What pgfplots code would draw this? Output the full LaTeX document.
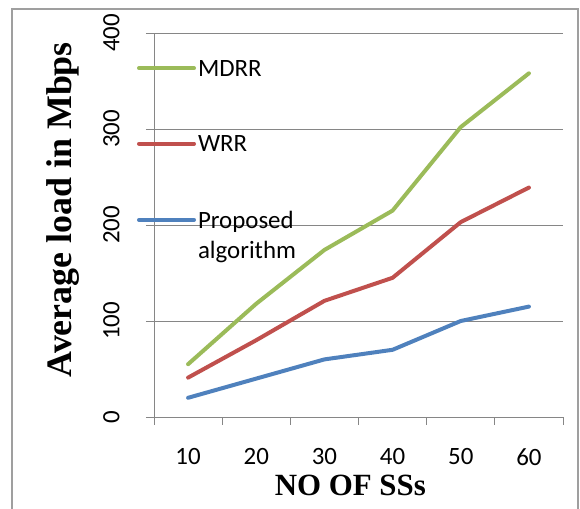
\documentclass[border=0pt]{standalone}
\usepackage{pgfplots}
\pgfplotsset{compat=1.18}
\usepackage{fontspec}
\setmainfont{Carlito}
\newfontfamily\tnr{Liberation Serif}
\definecolor{mgreen}{RGB}{155,187,89}
\definecolor{mred}{RGB}{192,80,77}
\definecolor{mblue}{RGB}{79,129,189}
\definecolor{gridc}{RGB}{134,134,134}
\begin{document}
\begin{tikzpicture}[x=1bp,y=1bp]
\path[use as bounding box] (-154,-92) rectangle (426,417);
\draw[gray!75, line width=1.6bp] (-142,-100) -- (-142,408) -- (424,408) -- (424,-100);
\begin{axis}[
  at={(0,0)}, anchor=south west,
  scale only axis, width=409bp, height=384bp,
  xmin=0.5, xmax=6.5, ymin=0, ymax=400,
  axis lines*=left,
  axis line style={gridc, line width=0.8bp},
  xtick={0.5,1.5,...,6.5},
  xticklabels={10,20,30,40,50,60},
  x tick label as interval,
  ytick={0,100,200,300,400},
  ymajorgrids, major grid style={gridc, line width=0.8bp},
  tick style={gridc, line width=0.8bp},
  major tick length=8bp,
  tick align=outside,
  /pgf/number format/assume math mode=true,
  tick label style={font=\fontsize{25}{30}\selectfont},
  yticklabel style={rotate=90, anchor=south},
  yticklabel shift=23bp,
  xticklabel style={inner sep=0pt, text depth=0pt},
  xticklabel shift=23bp,
  xlabel={\tnr\bfseries NO OF SSs},
  ylabel={\tnr\bfseries Average load in Mbps},
  every axis x label/.style={at={(axis description cs:0.48,0)}, anchor=base, yshift=-78bp, inner sep=0pt, font=\fontsize{31}{36}\selectfont},
  every axis y label/.style={at={(axis description cs:0,0.54)}, rotate=90, anchor=base, yshift=82bp, inner sep=0pt, font=\fontsize{36}{40}\selectfont},
  legend style={at={(axis description cs:-0.042,0.934)}, anchor=north west, draw=none, fill=none,
    font=\fontsize{25}{30}\selectfont, row sep=54bp, inner sep=0pt, cells={anchor=west}},
  legend image code/.code={\draw[#1] (0bp,1bp) -- (55bp,1bp);},
  every axis plot/.append style={line width=4bp, line join=round, line cap=round},
  clip=false,
]
\addplot[mgreen] coordinates {(1,55) (2,118) (3,174) (4,215) (5,302) (6,358)};
\addplot[mred] coordinates {(1,41) (2,80) (3,121) (4,145) (5,203) (6,239)};
\addplot[mblue] coordinates {(1,20) (2,40) (3,60) (4,70) (5,100) (6,115)};
\legend{MDRR, WRR, {\parbox[t]{4cm}{Proposed\\algorithm}}}
\end{axis}
\end{tikzpicture}
\end{document}
